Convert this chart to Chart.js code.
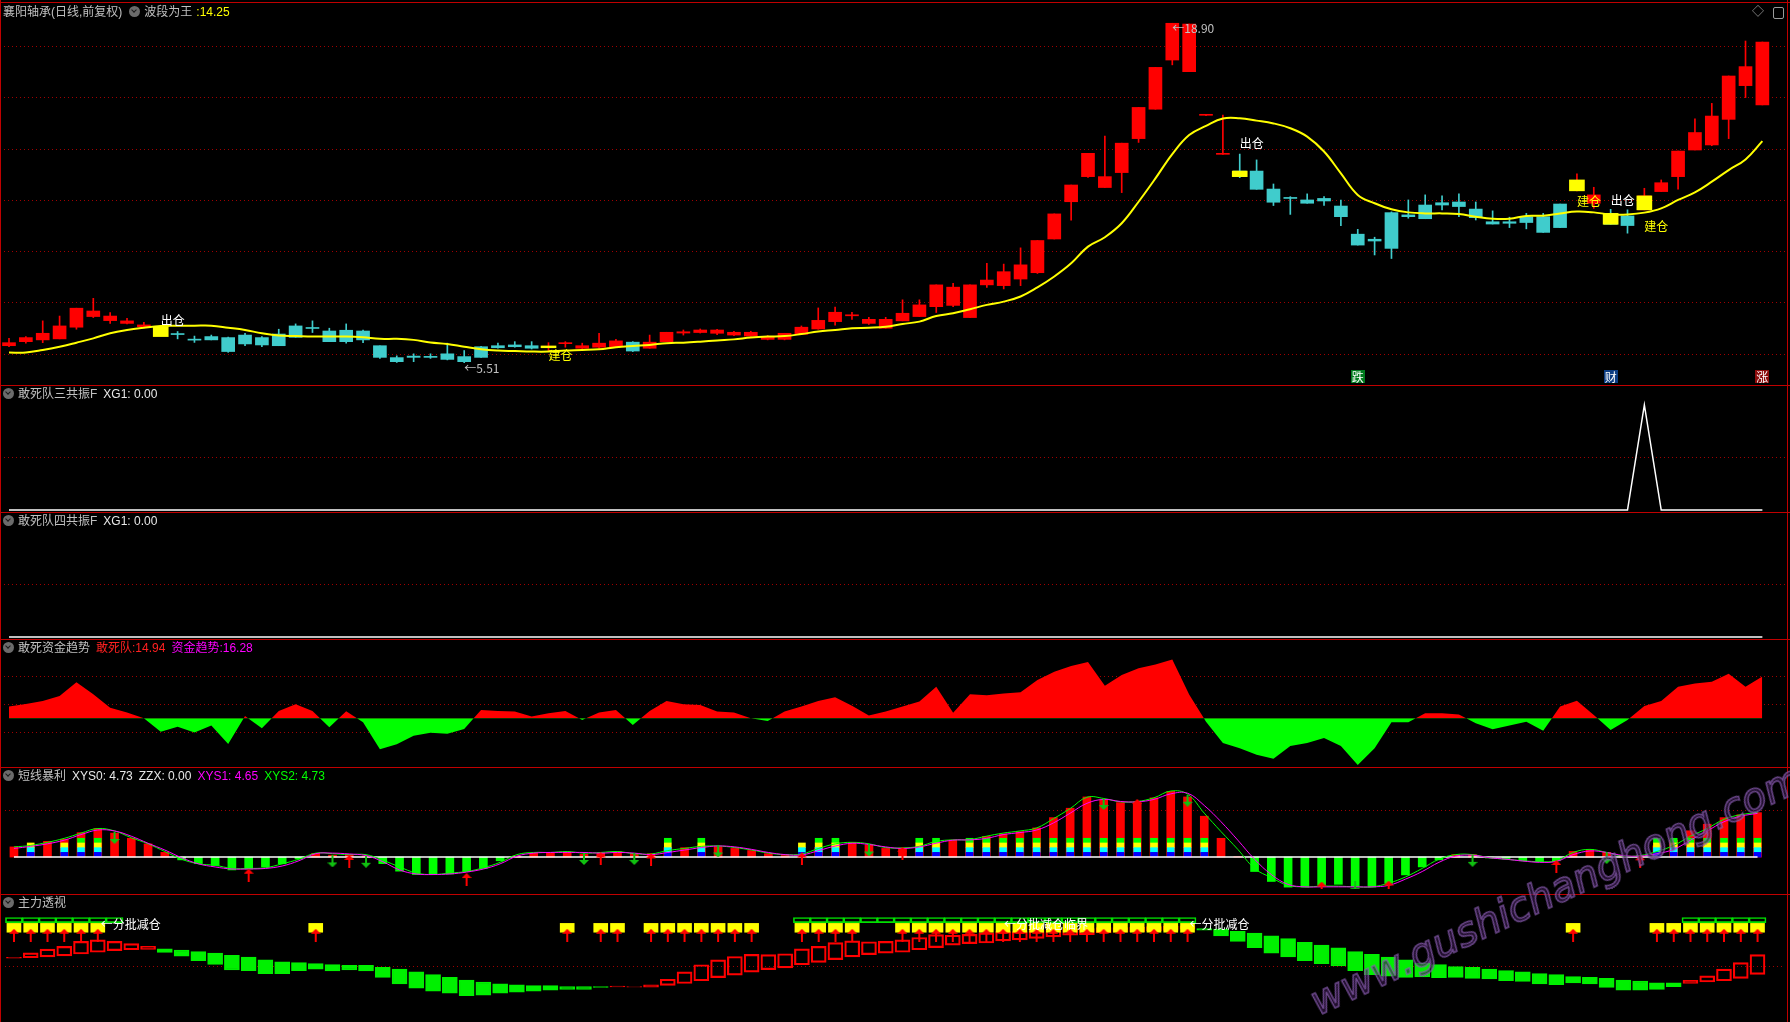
<!DOCTYPE html>
<html lang="zh">
<head>
  <meta charset="UTF-8" />
  <title>襄阳轴承(日线,前复权)</title>
  <style>
    body { margin: 0; background: #000; }
    #wrap {
      position: relative; width: 1790px; height: 1022px; background: #000; overflow: hidden;
      font-family: "Liberation Sans", "Noto Sans CJK SC", sans-serif; font-size: 12px;
    }
    .panel { position: absolute; left: 0; width: 1788px; }
    .panel canvas { display: block; }
    .layer { position: absolute; left: 0; top: 0; width: 100%; height: 100%; pointer-events: none; }
    .note { position: absolute; white-space: nowrap; font-size: 12px; line-height: 13px;
      font-family: "Noto Sans CJK SC", sans-serif; }
    .sep { position: absolute; left: 0; width: 1790px; height: 1px; background: #c00000; }
    .vsep { position: absolute; top: 0; width: 1px; height: 1022px; background: #c00000; }
    .title { position: absolute; left: 3px; white-space: nowrap; line-height: 14px; color: #c0c0c0; z-index: 5; }
    .title span { margin-right: 6px; }
    .ico { display: inline-block; position: relative; width: 11px; height: 11px; border-radius: 50%;
      background: #6b6b6b; margin-right: 4px; vertical-align: -1px; }
    .ico::after { content: ''; position: absolute; left: 3px; top: 2px; width: 3px; height: 3px;
      border-right: 1.5px solid #1a1a1a; border-bottom: 1.5px solid #1a1a1a; transform: rotate(45deg); }
    #wm {
      position: absolute; left: 1322px; top: 978px; line-height: 42px; white-space: nowrap;
      font: italic 40px "DejaVu Sans", sans-serif; color: rgba(55, 25, 75, 0.6);
      -webkit-text-stroke: 1.5px rgba(140, 95, 180, 0.75);
      transform-origin: 0 100%; transform: rotate(-25deg); pointer-events: none; z-index: 9;
    }
  </style>
</head>
<body>
<div id="wrap">
  <div class="panel" style="top:3px;height:382px"><canvas id="main" width="1788" height="382"></canvas><div class="layer"></div></div>
  <div class="panel" style="top:386px;height:126px"><canvas id="gs3" width="1788" height="126"></canvas><div class="layer"></div></div>
  <div class="panel" style="top:513px;height:126px"><canvas id="gs4" width="1788" height="126"></canvas><div class="layer"></div></div>
  <div class="panel" style="top:640px;height:127px"><canvas id="zjqs" width="1788" height="127"></canvas><div class="layer"></div></div>
  <div class="panel" style="top:768px;height:126px"><canvas id="dxbl" width="1788" height="126"></canvas><div class="layer"></div></div>
  <div class="panel" style="top:895px;height:127px"><canvas id="zlts" width="1788" height="127"></canvas><div class="layer"></div></div>

  <div class="sep" style="top:2px"></div>
  <div class="sep" style="top:385px"></div>
  <div class="sep" style="top:512px"></div>
  <div class="sep" style="top:639px"></div>
  <div class="sep" style="top:767px"></div>
  <div class="sep" style="top:894px"></div>
  <div class="vsep" style="left:0"></div>
  <div class="vsep" style="left:1787px"></div>

  <div class="title" style="top:5px"><span style="margin-right:7px">襄阳轴承(日线,前复权)</span><i class="ico"></i><span style="margin-right:4px">波段为王</span><span style="color:#ffff00">:14.25</span></div>
  <div class="title" style="top:387px"><i class="ico"></i><span>敢死队三共振F</span><span style="color:#e8e8e8">XG1: 0.00</span></div>
  <div class="title" style="top:514px"><i class="ico"></i><span>敢死队四共振F</span><span style="color:#e8e8e8">XG1: 0.00</span></div>
  <div class="title" style="top:641px"><i class="ico"></i><span>敢死资金趋势</span><span style="color:#ff2020">敢死队:14.94</span><span style="color:#ff00ff">资金趋势:16.28</span></div>
  <div class="title" style="top:769px"><i class="ico"></i><span>短线暴利</span><span style="color:#e8e8e8">XYS0: 4.73</span><span style="color:#e8e8e8">ZZX: 0.00</span><span style="color:#ff00ff">XYS1: 4.65</span><span style="color:#00ff00">XYS2: 4.73</span></div>
  <div class="title" style="top:896px"><i class="ico"></i><span>主力透视</span></div>

  <div class="title" style="top:5px;left:1752px;color:#9a9a9a">◇</div>
  <div style="position:absolute;top:7px;left:1773px;width:9px;height:10px;border:1px solid #9a9a9a;border-radius:2px;z-index:5"></div>

  <div id="wm">www.gushichanghong.com</div>
</div>

<script src="https://cdn.jsdelivr.net/npm/chart.js"></script>
<script>
  // 主图 K线（105 根，索引 0..104）
  const openP = [
    6.18, 6.34, 6.41, 6.45, 6.91, 7.33, 7.17, 7.06, 6.93, 6.85,
    6.65, 6.42, 6.54, 6.50, 6.60, 6.50, 6.64, 6.96, 6.88, 6.76,
    6.79, 6.76, 6.18, 5.71, 5.77, 5.73, 5.86, 5.75, 6.14, 6.18,
    6.21, 6.18, 6.12, 6.26, 6.08, 6.12, 6.14, 6.32, 6.08, 6.34,
    6.68, 6.70, 6.67, 6.60, 6.56, 6.43, 6.43, 6.63, 6.84, 7.13,
    7.36, 7.06, 6.87, 7.16, 7.33, 7.72, 7.77, 7.29, 8.58, 8.55,
    8.81, 9.06, 10.39, 11.86, 12.85, 12.42, 13.01, 14.35, 15.51, 17.45,
    16.99, 15.27, 13.73, 13.07, 13.07, 12.36, 12.02, 11.93, 11.99, 11.69,
    10.58, 10.38, 11.43, 11.34, 11.73, 11.82, 11.85, 11.57, 11.07, 11.07,
    11.27, 11.27, 11.77, 12.35, 11.80, 11.40, 11.30, 11.54, 12.26, 12.85,
    13.90, 14.10, 15.11, 16.44, 15.68
  ];
  const highP = [
    6.47, 6.54, 7.16, 7.35, 7.66, 8.05, 7.49, 7.26, 7.10, 6.95,
    6.74, 6.56, 6.60, 6.52, 6.67, 6.54, 6.83, 7.04, 7.16, 6.87,
    7.04, 6.80, 6.18, 5.78, 5.86, 5.86, 6.28, 5.99, 6.16, 6.28,
    6.34, 6.34, 6.30, 6.34, 6.28, 6.67, 6.43, 6.34, 6.60, 6.71,
    6.80, 6.84, 6.83, 6.75, 6.75, 6.58, 6.67, 6.96, 7.67, 7.70,
    7.50, 7.30, 7.30, 7.99, 7.99, 8.58, 8.64, 8.58, 9.43, 9.40,
    10.04, 10.33, 11.38, 12.52, 13.77, 14.45, 14.17, 15.58, 17.16, 18.90,
    18.87, 15.30, 15.28, 13.74, 13.51, 12.56, 12.06, 12.17, 12.06, 11.93,
    10.77, 10.46, 11.46, 11.93, 12.13, 12.09, 12.17, 11.85, 11.50, 11.25,
    11.40, 11.40, 11.77, 12.96, 12.43, 11.56, 11.54, 12.39, 12.72, 13.86,
    15.13, 15.74, 16.82, 18.20, 18.16
  ];
  const lowP = [
    6.14, 6.28, 6.30, 6.45, 6.83, 7.29, 7.06, 7.04, 6.91, 6.68,
    6.45, 6.31, 6.41, 5.92, 6.18, 6.14, 6.18, 6.51, 6.70, 6.34,
    6.28, 6.30, 5.68, 5.52, 5.55, 5.68, 5.62, 5.51, 5.72, 6.08,
    6.12, 6.05, 5.95, 6.12, 6.01, 6.08, 6.14, 5.95, 6.08, 6.34,
    6.60, 6.68, 6.62, 6.58, 6.55, 6.41, 6.41, 6.63, 6.83, 6.99,
    7.22, 7.02, 6.87, 7.16, 7.33, 7.49, 7.72, 7.29, 8.48, 8.42,
    8.55, 9.03, 10.39, 11.13, 12.82, 12.42, 12.22, 14.20, 15.51, 17.26,
    16.99, 15.26, 13.73, 12.81, 12.35, 11.71, 11.36, 11.80, 11.71, 10.92,
    10.15, 9.76, 9.62, 11.21, 11.19, 11.54, 11.27, 11.14, 10.98, 10.84,
    10.79, 10.65, 10.84, 12.29, 11.60, 10.97, 10.62, 11.54, 12.26, 12.36,
    13.90, 14.07, 14.35, 15.97, 15.68
  ];
  const closeP = [
    6.30, 6.50, 6.67, 6.96, 7.66, 7.55, 7.35, 7.16, 7.00, 6.72,
    6.62, 6.40, 6.41, 5.95, 6.25, 6.21, 6.18, 6.51, 6.86, 6.34,
    6.34, 6.41, 5.72, 5.55, 5.72, 5.72, 5.64, 5.55, 5.72, 6.10,
    6.14, 6.08, 6.14, 6.28, 6.18, 6.28, 6.37, 5.97, 6.32, 6.71,
    6.73, 6.80, 6.80, 6.71, 6.71, 6.54, 6.67, 6.91, 7.18, 7.50,
    7.40, 7.22, 7.22, 7.46, 7.79, 8.58, 8.49, 8.58, 8.77, 9.10,
    9.37, 10.33, 11.38, 12.52, 13.77, 12.85, 14.17, 15.58, 17.16, 18.90,
    18.87, 15.30, 13.76, 12.85, 12.35, 11.84, 11.99, 11.80, 11.89, 11.27,
    10.15, 10.31, 10.02, 11.27, 11.19, 11.73, 11.67, 11.23, 10.98, 11.01,
    11.04, 10.65, 10.84, 12.70, 12.13, 10.97, 10.92, 12.09, 12.61, 13.86,
    14.59, 15.24, 16.82, 17.19, 18.16
  ];
  // 波段为王
  const bdwMA = [
    5.91, 5.91, 6.01, 6.14, 6.30, 6.47, 6.67, 6.80, 6.89, 6.96,
    6.97, 6.97, 6.97, 6.89, 6.80, 6.67, 6.58, 6.56, 6.54, 6.54,
    6.54, 6.51, 6.45, 6.45, 6.41, 6.31, 6.25, 6.14, 6.04, 5.99,
    5.97, 5.95, 5.95, 5.99, 6.01, 6.04, 6.12, 6.17, 6.21, 6.28,
    6.30, 6.34, 6.39, 6.43, 6.50, 6.54, 6.56, 6.64, 6.74, 6.80,
    6.87, 6.89, 6.93, 7.04, 7.13, 7.35, 7.46, 7.62, 7.79, 7.92,
    8.12, 8.48, 8.91, 9.43, 10.09, 10.46, 11.01, 11.86, 12.78, 13.74,
    14.49, 14.85, 15.14, 15.15, 15.06, 14.95, 14.76, 14.43, 13.84, 12.98,
    12.13, 11.80, 11.56, 11.44, 11.40, 11.40, 11.38, 11.27, 11.19, 11.19,
    11.30, 11.31, 11.40, 11.47, 11.44, 11.36, 11.36, 11.43, 11.60, 11.93,
    12.23, 12.65, 13.11, 13.53, 14.25
  ];
  // 建仓/出仓 黄块
  const signalBars = [9, 32, 73, 93, 95, 97];
  const signalLow = [6.54, 6.10, 12.85, 12.29, 10.97, 11.54];
  const signalHigh = [6.93, 6.17, 13.07, 12.72, 11.40, 12.09];
  const priceGrid = [5.85, 7.87, 9.89, 11.92, 13.94, 15.96, 17.98];

  // 敢死队三共振F / 四共振F
  const xg3 = [
    0, 0, 0, 0, 0, 0, 0, 0, 0, 0, 0, 0, 0, 0, 0,
    0, 0, 0, 0, 0, 0, 0, 0, 0, 0, 0, 0, 0, 0, 0,
    0, 0, 0, 0, 0, 0, 0, 0, 0, 0, 0, 0, 0, 0, 0,
    0, 0, 0, 0, 0, 0, 0, 0, 0, 0, 0, 0, 0, 0, 0,
    0, 0, 0, 0, 0, 0, 0, 0, 0, 0, 0, 0, 0, 0, 0,
    0, 0, 0, 0, 0, 0, 0, 0, 0, 0, 0, 0, 0, 0, 0,
    0, 0, 0, 0, 0, 0, 0, 1, 0, 0, 0, 0, 0, 0, 0
  ];
  const xg4 = [
    0, 0, 0, 0, 0, 0, 0, 0, 0, 0, 0, 0, 0, 0, 0,
    0, 0, 0, 0, 0, 0, 0, 0, 0, 0, 0, 0, 0, 0, 0,
    0, 0, 0, 0, 0, 0, 0, 0, 0, 0, 0, 0, 0, 0, 0,
    0, 0, 0, 0, 0, 0, 0, 0, 0, 0, 0, 0, 0, 0, 0,
    0, 0, 0, 0, 0, 0, 0, 0, 0, 0, 0, 0, 0, 0, 0,
    0, 0, 0, 0, 0, 0, 0, 0, 0, 0, 0, 0, 0, 0, 0,
    0, 0, 0, 0, 0, 0, 0, 0, 0, 0, 0, 0, 0, 0, 0
  ];

  // 敢死资金趋势
  const gszj = [
    4.2, 5.1, 6.2, 8.0, 12.9, 8.6, 3.8, 2.1, 0, -4.8,
    -3.0, -5.1, -2.6, -9.2, 0.8, -3.6, 2.6, 5.0, 2.6, -3.2,
    2.5, -1.4, -11.1, -9.3, -6.3, -5.2, -5.5, -3.8, 3.0, 2.6,
    2.4, 0.6, 1.8, 2.6, -0.6, 2.1, 3.0, -2.4, 2.6, 6.2,
    5.0, 4.8, 2.4, 2.1, 0, -1.0, 2.4, 4.2, 6.2, 7.5,
    4.5, 1.0, 2.4, 4.2, 6.0, 11.3, 2.0, 8.6, 8.3, 8.9,
    9.3, 13.7, 16.7, 18.7, 20.2, 11.7, 15.5, 17.9, 19.3, 21.1,
    8.5, -1.2, -8.9, -10.7, -13.1, -14.5, -9.9, -8.9, -7.1, -9.9,
    -16.7, -10.7, -1.4, -1.4, 1.8, 1.8, 1.4, -1.8, -3.9, -2.6,
    -1.2, -4.5, 4.2, 6.3, 1.2, -4.2, -0.6, 4.4, 6.2, 11.3,
    12.5, 13.1, 16.0, 11.3, 14.94
  ];
  const zjGrid = [15, 5, -5];

  // 短线暴利
  const dxBars = [
    1.08, 1.0, 1.67, 1.9, 2.6, 3.04, 2.55, 2.0, 1.4, 0.5, -0.3, -0.7, -0.9, -1.37, -1.27,
    -1.05, -0.72, -0.2, 0.4, 0.2, 0.25, 0.1, -0.7, -1.5, -1.86, -1.86, -1.8, -1.54, -1.2, -0.4,
    0.1, 0.4, 0.4, 0.55, 0.3, 0.4, 0.6, 0.4, 0.35, 1.0, 1.0, 1.2, 1.08, 0.92, 0.7,
    0.36, 0.16, 0.3, 1.0, 1.5, 1.57, 1.3, 0.92, 0.92, 1.1, 1.6, 1.8, 1.9, 2.2, 2.45,
    2.7, 3.1, 4.2, 5.2, 6.4, 6.1, 5.8, 5.8, 6.3, 7.0, 6.4, 4.35, 2.0, 0.05, -1.54,
    -2.6, -3.2, -3.2, -3.0, -2.9, -3.1, -3.2, -2.8, -1.9, -1.05, -0.3, 0.26, 0.26, -0.1, -0.2,
    -0.4, -0.5, -0.4, 0.6, 0.8, 0.5, 0.05, 0.1, 1.2, 1.8, 2.8, 3.5, 4.2, 4.5, 4.73
  ];
  const dxRainbow = [
    0, 3, 0, 3, 4, 4, 0, 0, 0, 0, 0, 0, 0, 0, 0,
    0, 0, 0, 0, 0, 0, 0, 0, 0, 0, 0, 0, 0, 0, 0,
    0, 0, 0, 0, 0, 0, 0, 0, 0, 4, 0, 4, 0, 0, 0,
    0, 0, 3, 4, 4, 0, 0, 0, 0, 4, 4, 0, 4, 4, 4,
    4, 4, 4, 4, 4, 4, 4, 4, 4, 4, 4, 4, 0, 0, 0,
    0, 0, 0, 0, 0, 0, 0, 0, 0, 0, 0, 0, 0, 0, 0,
    0, 0, 0, 0, 0, 0, 0, 0, 4, 4, 4, 4, 4, 4, 4
  ];
  const rainbowStep = 0.5;
  const xys2 = [
    1.08, 1.24, 1.57, 1.99, 2.55, 3.04, 2.78, 2.06, 1.41, 0.59, -0.23, -0.72, -0.88, -1.21, -1.21,
    -1.14, -0.72, -0.23, 0.42, 0.36, 0.26, 0.26, -0.33, -1.05, -1.70, -1.86, -1.70, -1.54, -1.14, -0.56,
    0.26, 0.49, 0.49, 0.59, 0.42, 0.49, 0.59, 0.36, 0.33, 0.69, 0.92, 1.14, 1.18, 1.01, 0.75,
    0.42, 0.26, 0.33, 0.92, 1.41, 1.57, 1.41, 1.01, 0.98, 1.14, 1.67, 1.83, 1.86, 2.22, 2.55,
    2.78, 3.10, 4.08, 5.16, 6.37, 6.24, 5.88, 5.92, 6.31, 7.03, 6.70, 4.67, 2.71, 0.82, -1.21,
    -2.19, -3.01, -3.17, -3.10, -3.10, -3.17, -3.17, -2.78, -2.12, -1.21, -0.23, 0.26, 0.26, -0.07, -0.23,
    -0.39, -0.49, -0.39, 0.49, 0.82, 0.49, 0.10, 0.16, 0.59, 1.24, 2.22, 3.04, 4.02, 4.51, 4.73
  ];
  const xys1 = [
    0.92, 1.14, 1.41, 1.80, 2.39, 2.88, 2.78, 2.22, 1.47, 0.75, -0.07, -0.72, -1.05, -1.27, -1.27,
    -1.21, -0.95, -0.39, 0.36, 0.42, 0.33, 0.16, -0.49, -1.37, -1.80, -1.86, -1.80, -1.60, -1.27, -0.72,
    0.10, 0.42, 0.49, 0.49, 0.49, 0.42, 0.49, 0.42, 0.26, 0.49, 0.75, 1.01, 1.18, 1.08, 0.82,
    0.49, 0.26, 0.23, 0.69, 1.18, 1.47, 1.34, 1.08, 0.92, 1.08, 1.47, 1.80, 1.83, 1.99, 2.39,
    2.61, 2.88, 3.63, 4.67, 5.72, 6.14, 5.92, 5.88, 6.14, 6.73, 6.80, 5.49, 3.76, 1.80, -0.23,
    -1.86, -2.91, -3.17, -3.17, -3.17, -3.17, -3.17, -3.01, -2.35, -1.54, -0.56, 0.10, 0.20, -0.07, -0.23,
    -0.42, -0.56, -0.46, 0.26, 0.65, 0.49, 0.16, 0.10, 0.36, 0.82, 1.80, 2.78, 3.76, 4.35, 4.65
  ];
  const zzx = [
    0, 0, 0, 0, 0, 0, 0, 0, 0, 0, 0, 0, 0, 0, 0,
    0, 0, 0, 0, 0, 0, 0, 0, 0, 0, 0, 0, 0, 0, 0,
    0, 0, 0, 0, 0, 0, 0, 0, 0, 0, 0, 0, 0, 0, 0,
    0, 0, 0, 0, 0, 0, 0, 0, 0, 0, 0, 0, 0, 0, 0,
    0, 0, 0, 0, 0, 0, 0, 0, 0, 0, 0, 0, 0, 0, 0,
    0, 0, 0, 0, 0, 0, 0, 0, 0, 0, 0, 0, 0, 0, 0,
    0, 0, 0, 0, 0, 0, 0, 0, 0, 0, 0, 0, 0, 0, 0
  ];
  const sellArrowBars = [6, 19, 21, 34, 37, 42, 51, 65, 70, 80, 87, 95];
  const sellArrowVals = [2.03, -0.46, -0.5, -0.2, -0.2, 0.6, 0.7, 5.65, 6.0, -3.2, -0.4, -0.1];
  const buyArrowBars = [14, 20, 27, 35, 38, 47, 53, 67, 78, 82, 92, 97];
  const buyArrowVals = [-1.93, -0.46, -2.39, -0.2, -0.3, -0.2, 0.4, 5.5, -3.3, -3.2, -1.0, -0.5];

  // 主力透视
  const zlOpen = [
    60.0, 60.5, 61.6, 62.7, 64.9, 67.0, 68.8, 69.9, 70.3, 71.0, 69.6, 67.8, 65.9, 63.4, 61.2,
    58.0, 55.8, 54.7, 53.6, 52.5, 51.4, 51.4, 49.3, 47.1, 43.8, 40.6, 37.3, 34.1, 31.9, 29.7,
    28.6, 27.5, 27.5, 26.4, 26.4, 26.4, 26.0, 25.7, 25.7, 27.9, 30.1, 33.3, 37.0, 39.9, 43.5,
    46.4, 48.6, 52.2, 55.1, 58.3, 61.6, 64.1, 65.9, 67.0, 69.9, 72.5, 75.4, 77.2, 77.9, 80.4,
    81.5, 83.3, 85.1, 87.0, 87.7, 89.9, 90.6, 91.3, 92.0, 92.8, 94.2, 94.9, 94.2, 91.7, 89.5,
    86.2, 83.0, 78.6, 75.4, 72.1, 67.8, 64.5, 61.2, 58.0, 54.3, 52.5, 50.0, 49.3, 47.1, 45.3,
    43.8, 41.7, 40.6, 38.4, 37.3, 36.2, 34.1, 33.0, 30.8, 30.8, 30.1, 31.9, 33.3, 36.2, 40.9
  ];
  const zlClose = [
    61.0, 66.3, 70.7, 73.9, 79.7, 81.5, 79.7, 77.2, 73.9, 66.7, 62.3, 56.9, 52.5, 46.0, 45.3,
    41.7, 41.7, 45.3, 47.1, 44.9, 46.0, 44.9, 37.3, 29.7, 24.6, 21.0, 18.8, 15.6, 16.3, 18.8,
    19.9, 21.0, 22.1, 23.2, 23.2, 25.4, 27.2, 26.4, 28.6, 35.1, 43.8, 52.2, 58.0, 62.0, 64.5,
    64.1, 65.2, 71.0, 73.9, 78.3, 80.4, 79.3, 79.7, 81.5, 84.4, 87.7, 87.0, 88.0, 89.9, 91.3,
    91.3, 92.4, 93.5, 94.2, 94.9, 96.0, 96.0, 96.7, 97.1, 97.8, 97.8, 93.1, 86.2, 79.7, 72.5,
    65.9, 61.6, 56.9, 53.6, 50.7, 45.3, 40.6, 38.8, 37.3, 38.0, 37.0, 37.3, 36.2, 35.5, 33.3,
    32.6, 29.7, 28.6, 30.8, 29.7, 25.4, 22.1, 22.1, 23.2, 26.4, 33.7, 39.1, 47.1, 54.7, 64.1
  ];
  const zlSignalBars = [0, 1, 2, 3, 4, 5, 18, 33, 35, 36, 38, 39, 40, 41, 42, 43, 44, 47, 48, 49, 50,
    53, 54, 55, 56, 57, 58, 59, 60, 61, 62, 63, 64, 65, 66, 67, 68, 69, 70, 93, 98, 99, 100, 101, 102, 103, 104];
  const zlBoxLow = 90.6, zlBoxHigh = 101;
  const zlArrowLevel = 87;
  const zlBands = [[0, 6], [47, 70], [100, 104]];
  const zlBandLow = 102, zlBandHigh = 108;
  const zlGrid = [50];

  // 图上文字
  const notesFor = {
    main: [
      { i: 9, v: 7.20, text: '出仓', color: '#ffffff' },
      { i: 32, v: 5.82, text: '建仓', color: '#ffff00' },
      { i: 27, v: 5.34, text: '←5.51', color: '#c0c0c0' },
      { i: 69, v: 18.75, text: '←18.90', color: '#c0c0c0' },
      { i: 73, v: 14.18, text: '出仓', color: '#ffffff' },
      { i: 93, v: 11.89, text: '建仓', color: '#ffff00' },
      { i: 95, v: 11.93, text: '出仓', color: '#ffffff' },
      { i: 97, v: 10.94, text: '建仓', color: '#ffff00' },
      { i: 80, v: 4.95, text: '跌', color: '#ffffff', bg: '#007a1e', center: true },
      { i: 95, v: 4.95, text: '财', color: '#ffffff', bg: '#0b3c82', center: true },
      { i: 104, v: 4.95, text: '涨', color: '#ffffff', bg: '#8c0c0c', center: true }
    ],
    zlts: [
      { i: 5, v: 100.9, text: '←分批减仓', color: '#ffffff', dx: 3 },
      { i: 59, v: 100.9, text: '←分批减仓临界', color: '#ffffff', dx: 1 },
      { i: 70, v: 100.9, text: '←分批减仓', color: '#ffffff', dx: 2 }
    ]
  };

  const X_MIN = -0.534, X_MAX = 105.52;
  const idx = openP.map((_, i) => i);
  const pts = arr => idx.map(i => ({ x: i, y: arr[i] }));

  function makeArrow(color, up, w, h) {
    const c = document.createElement('canvas');
    c.width = w; c.height = h;
    const g = c.getContext('2d');
    g.fillStyle = color;
    const head = Math.round(h * 0.42), mid = w / 2;
    if (up) {
      g.beginPath(); g.moveTo(mid, 0); g.lineTo(w, head); g.lineTo(0, head); g.closePath(); g.fill();
      g.fillRect(mid - 1, head, 2, h - head);
    } else {
      g.fillRect(mid - 1, 0, 2, h - head);
      g.beginPath(); g.moveTo(0, h - head); g.lineTo(w, h - head); g.lineTo(mid, h); g.closePath(); g.fill();
    }
    return c;
  }
  const arrowBuy = makeArrow('#ff0000', true, 10, 13);
  const arrowSell = makeArrow('#10c010', false, 10, 12);
  const arrowZl = makeArrow('#ff0000', true, 10, 13);

  const notePlugin = {
    id: 'notes',
    afterDraw(chart) {
      const layer = chart.canvas.parentNode.querySelector('.layer');
      layer.innerHTML = '';
      (notesFor[chart.canvas.id] || []).forEach(n => {
        const el = document.createElement('div');
        el.className = 'note';
        el.textContent = n.text;
        el.style.color = n.color;
        if (n.bg) { el.style.background = n.bg; el.style.padding = '0 1px'; }
        layer.appendChild(el);
        let x = chart.scales.x.getPixelForValue(n.i) + (n.dx || 0);
        if (n.center) x -= el.offsetWidth / 2;
        el.style.left = x + 'px';
        el.style.top = (chart.scales.y.getPixelForValue(n.v) - el.offsetHeight / 2) + 'px';
      });
    }
  };

  function panel(id, yMin, yMax, grid, datasets) {
    return new Chart(document.getElementById(id), {
      type: 'bar',
      data: { datasets },
      options: {
        responsive: false, animation: false, devicePixelRatio: 1,
        layout: { padding: 0 },
        plugins: { legend: { display: false }, tooltip: { enabled: false } },
        scales: {
          x: { type: 'linear', min: X_MIN, max: X_MAX, offset: false, display: false },
          y: {
            min: yMin, max: yMax,
            afterBuildTicks: ax => { ax.ticks = grid.map(v => ({ value: v })); },
            ticks: { display: false },
            grid: { color: '#a00000', drawTicks: false, lineWidth: 1 },
            border: { display: false, dash: [1, 3] }
          }
        }
      },
      plugins: [notePlugin]
    });
  }

  // 主图
  const candleCol = idx.map(i => closeP[i] >= openP[i] ? '#ff0000' : '#40cccc');
  panel('main', 4.63, 19.70, priceGrid, [
    { type: 'bar', data: idx.map(i => ({ x: i, y: [lowP[i], highP[i]] })), backgroundColor: candleCol,
      barThickness: 1, grouped: false, order: 5 },
    { type: 'bar', data: idx.map(i => ({ x: i, y: [openP[i], closeP[i]] })), backgroundColor: candleCol,
      barThickness: 13, minBarLength: 1, grouped: false, order: 4 },
    { type: 'line', data: pts(bdwMA), borderColor: '#ffff00', borderWidth: 2, pointRadius: 0,
      tension: 0.4, order: 3 },
    { type: 'bar', data: signalBars.map((b, k) => ({ x: b, y: [signalLow[k], signalHigh[k]] })),
      backgroundColor: '#ffff00', barThickness: 15, grouped: false, order: 2 }
  ]);

  // 敢死队三共振F / 四共振F
  panel('gs3', -0.019, 1.181, [0.5], [
    { type: 'line', data: pts(xg3), borderColor: '#ffffff', borderWidth: 1.5, pointRadius: 0, tension: 0 }
  ]);
  panel('gs4', -0.019, 1.181, [0.5], [
    { type: 'line', data: pts(xg4), borderColor: '#ffffff', borderWidth: 1.5, pointRadius: 0, tension: 0 }
  ]);

  // 敢死资金趋势
  panel('zjqs', -17.46, 28.06, zjGrid, [
    { type: 'line', data: pts(gszj), borderWidth: 0, borderColor: 'rgba(0,0,0,0)', pointRadius: 0, tension: 0,
      fill: { target: 'origin', above: '#ff0000', below: '#00ff00' } }
  ]);

  // 短线暴利
  const rainbowCols = ['#0000ff', '#00ffff', '#ffff00', '#00ff00'];
  const rainbowSets = rainbowCols.map((col, k) => ({
    type: 'bar',
    data: idx.filter(i => dxRainbow[i] > k).map(i => ({ x: i, y: [k * rainbowStep, (k + 1) * rainbowStep] })),
    backgroundColor: col, barThickness: 7, grouped: false, order: 5
  }));
  panel('dxbl', -3.40, 8.95, [5], [
    { type: 'bar', data: pts(dxBars), backgroundColor: idx.map(i => dxBars[i] >= 0 ? '#ff0000' : '#00ff00'),
      barThickness: 8, grouped: false, order: 6 },
    ...rainbowSets,
    { type: 'line', data: pts(zzx), borderColor: '#ffffff', borderWidth: 1.5, pointRadius: 0, order: 4 },
    { type: 'line', data: pts(xys2), borderColor: '#00ff00', borderWidth: 1, pointRadius: 0, tension: 0.4, order: 3 },
    { type: 'line', data: pts(xys1), borderColor: '#ff00ff', borderWidth: 1, pointRadius: 0, tension: 0.4, order: 2 },
    { type: 'scatter', data: sellArrowBars.map((b, k) => ({ x: b, y: sellArrowVals[k] })), pointStyle: arrowSell, order: 1 },
    { type: 'scatter', data: buyArrowBars.map((b, k) => ({ x: b, y: buyArrowVals[k] })), pointStyle: arrowBuy, order: 1 }
  ]);

  // 主力透视
  const bandIdx = [];
  zlBands.forEach(([a, b]) => { for (let i = a; i <= b; i++) bandIdx.push(i); });
  const zlUp = idx.map(i => zlClose[i] >= zlOpen[i]);
  panel('zlts', -9.42, 128.6, zlGrid, [
    { type: 'bar', data: bandIdx.map(i => ({ x: i, y: [zlBandLow, zlBandHigh] })), backgroundColor: 'rgba(0,0,0,0)',
      borderColor: '#00e000', borderWidth: 1, borderSkipped: false, barThickness: 17, grouped: false, order: 5 },
    { type: 'bar', data: idx.map(i => ({ x: i, y: [zlOpen[i], zlClose[i]] })),
      backgroundColor: idx.map(i => zlUp[i] ? 'rgba(0,0,0,0)' : '#00f000'),
      borderColor: idx.map(i => zlUp[i] ? '#ff0000' : '#00f000'),
      borderWidth: 1.5, borderSkipped: false, barThickness: 15, grouped: false, order: 4 },
    { type: 'bar', data: zlSignalBars.map(i => ({ x: i, y: [zlBoxLow, zlBoxHigh] })), backgroundColor: '#ffff00',
      barThickness: 14, grouped: false, order: 3 },
    { type: 'scatter', data: zlSignalBars.map(i => ({ x: i, y: zlArrowLevel })), pointStyle: arrowZl, order: 2 }
  ]);
</script>
</body>
</html>
